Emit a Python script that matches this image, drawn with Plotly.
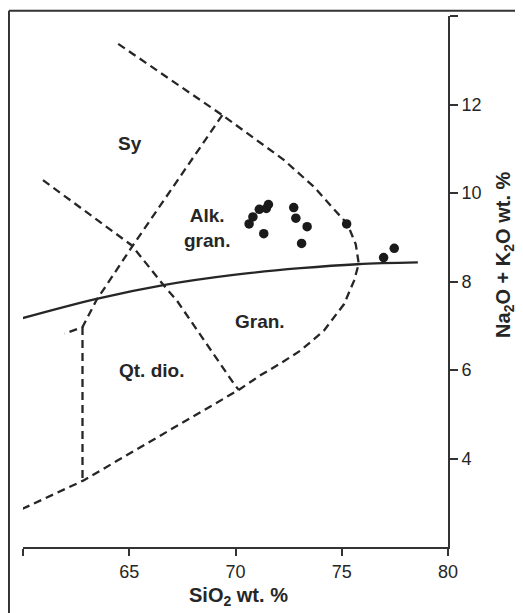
import plotly.graph_objects as go

# --- data ---
sample_sio2 = [70.64, 70.82, 71.12, 71.45, 71.55, 71.33, 72.74, 72.84, 73.37, 73.11, 75.23, 76.97, 77.47]
sample_alk = [9.30, 9.46, 9.63, 9.65, 9.74, 9.08, 9.67, 9.43, 9.24, 8.86, 9.30, 8.54, 8.75]

# alkaline / subalkaline divide (solid)
divide_x = [59.95, 63.46, 66.61, 69.91, 73.06, 75.74, 78.58]
divide_y = [7.17, 7.61, 7.92, 8.15, 8.30, 8.39, 8.43]

# outer field boundary (dashed)
outer_x = [64.48, 69.38, 72.27, 73.69, 74.60, 75.27, 75.66, 75.80, 75.58, 75.11, 74.16, 73.06, 72.12, 71.17, 70.15, 66.60, 62.83, 59.92]
outer_y = [13.37, 11.76, 10.75, 10.14, 9.65, 9.30, 8.84, 8.40, 8.02, 7.49, 6.89, 6.44, 6.15, 5.88, 5.55, 4.55, 3.50, 2.85]

# syenite / alkali granite boundary, continuing to quartz diorite corner (dashed)
sy_x = [69.38, 65.15, 63.46, 62.80, 61.96]
sy_y = [11.76, 8.80, 7.58, 6.97, 6.82]

# vertical quartz diorite boundary (dashed)
qd_x = [62.80, 62.80]
qd_y = [6.97, 3.50]

# diagonal boundary (dashed)
diag_x = [60.94, 65.11, 66.61, 67.24, 69.91, 70.15]
diag_y = [10.29, 8.82, 7.92, 7.57, 5.70, 5.55]

# field labels
field_labels = ["<b>Sy</b>", "<b>Alk.</b><br><b>gran.</b>", "<b>Gran.</b>", "<b>Qt. dio.</b>"]
field_x = [65.03, 68.66, 71.17, 66.06]
field_y = [11.13, 9.22, 7.10, 6.00]

x_tickvals = [60, 65, 70, 75, 80]
x_ticktext = ["", "65", "70", "75", "80"]
y_tickvals = [4, 6, 8, 10, 12, 14]
y_ticktext = ["4", "6", "8", "10", "12", ""]

FONT = "Liberation Sans, Arial, Helvetica, sans-serif"
INK = "#262626"
DASH = "8px,5px"

fig = go.Figure()

for xs, ys in [(outer_x, outer_y), (sy_x, sy_y), (qd_x, qd_y), (diag_x, diag_y)]:
    fig.add_trace(go.Scatter(x=xs, y=ys, mode="lines", line=dict(color=INK, width=2.3, dash=DASH),
                             hoverinfo="skip", showlegend=False))

fig.add_trace(go.Scatter(x=divide_x, y=divide_y, mode="lines", line=dict(color=INK, width=2.3, shape="spline"),
                         hoverinfo="skip", showlegend=False))

fig.add_trace(go.Scatter(x=sample_sio2, y=sample_alk, mode="markers",
                         marker=dict(size=9.5, color="#1a1a1a"), showlegend=False))

for t, x, y in zip(field_labels, field_x, field_y):
    fig.add_annotation(x=x, y=y, xref="x", yref="y", text=t, showarrow=False,
                       font=dict(family=FONT, size=19, color=INK), align="center")

fig.add_annotation(x=0.506, y=-0.094, xref="paper", yref="paper", text="<b>SiO<sub>2</sub> wt. %</b>",
                   showarrow=False, font=dict(family=FONT, size=20, color=INK), xanchor="center", yanchor="middle")
fig.add_annotation(x=1.134, y=0.55, xref="paper", yref="paper",
                   text="<b>Na<sub>2</sub>O + K<sub>2</sub>O wt. %</b>", textangle=-90,
                   showarrow=False, font=dict(family=FONT, size=20, color=INK), xanchor="center", yanchor="middle")

# outer frame lines (top and left)
fig.add_shape(type="line", xref="paper", yref="paper", x0=-0.033, x1=-0.033, y0=-0.3, y1=1.010,
              line=dict(color="#333", width=2))
fig.add_shape(type="line", xref="paper", yref="paper", x0=-0.033, x1=1.3, y0=1.010, y1=1.010,
              line=dict(color="#333", width=2))

# page body has an 8px default margin, so the figure is sized to fit inside the window
fig.update_layout(
    width=515, height=605, autosize=False,
    margin=dict(l=15, r=75, t=8, b=66),
    paper_bgcolor="white", plot_bgcolor="white",
    xaxis=dict(range=[60, 80], showline=True, linecolor="#333", linewidth=2, ticks="outside",
               ticklen=7, tickwidth=2, tickcolor="#333", tickvals=x_tickvals, ticktext=x_ticktext,
               showgrid=False, zeroline=False, tickfont=dict(family=FONT, size=18, color=INK)),
    yaxis=dict(range=[2, 14], side="right", showline=True, linecolor="#333", linewidth=2, ticks="outside",
               ticklen=8, tickwidth=2, tickcolor="#333", tickvals=y_tickvals, ticktext=y_ticktext,
               showgrid=False, zeroline=False, tickfont=dict(family=FONT, size=18, color=INK)),
)

fig.write_html("out.html")
